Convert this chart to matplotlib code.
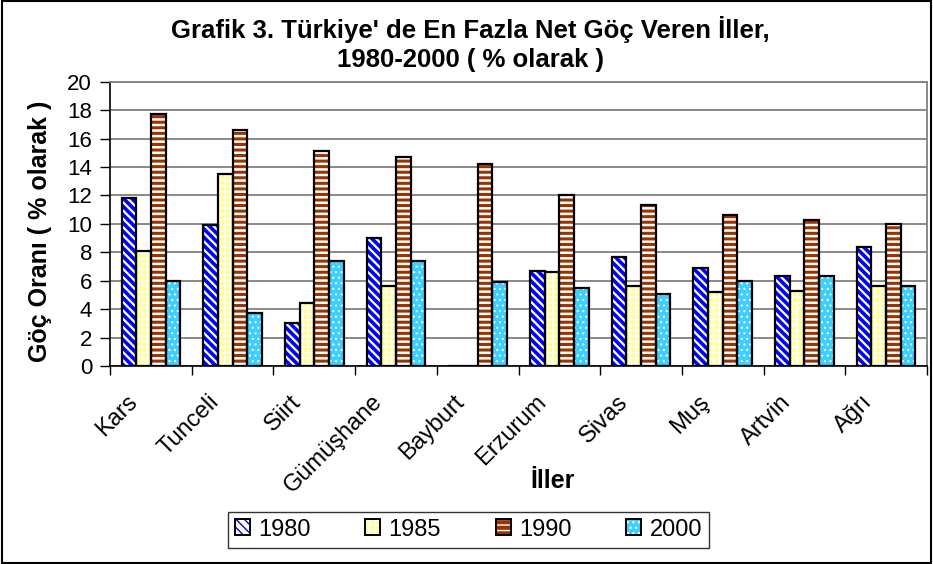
import numpy as np
import matplotlib
matplotlib.use("Agg")
import matplotlib.pyplot as plt
from matplotlib.patches import Patch, Rectangle

# data
cities = ["Kars", "Tunceli", "Siirt", "Gümüşhane", "Bayburt",
          "Erzurum", "Sivas", "Muş", "Artvin", "Ağrı"]
years = ["1980", "1985", "1990", "2000"]
v1980 = [11.8, 9.9, 3.0, 9.0, 0, 6.7, 7.7, 6.9, 6.3, 8.4]
v1985 = [8.1, 13.5, 4.4, 5.6, 0, 6.6, 5.6, 5.2, 5.3, 5.6]
v1990 = [17.7, 16.6, 15.1, 14.7, 14.2, 12.0, 11.3, 10.6, 10.3, 10.0]
v2000 = [6.0, 3.7, 7.4, 7.4, 5.9, 5.5, 5.1, 6.0, 6.3, 5.6]
yticks = list(range(0, 21, 2))

plt.rcParams['font.family'] = ['Liberation Sans', 'DejaVu Sans']

# fill colour, hatch colour, hatch pattern, hatch width per series
styles = [
    ("white", "#0000FF", "\\\\\\\\", 2.6),
    ("#FFFF99", "white", "+++", 1.0),
    ("#993300", "white", "---", 1.8),
    ("#3CCFFF", "white", "...", 0.8),
]

fig = plt.figure(figsize=(9.33, 5.64), dpi=100)
ax = fig.add_axes([0.118, 0.351, 0.8755, 0.504])

x = np.arange(len(cities))
w = 0.18
series = [v1980, v1985, v1990, v2000]
handles = []
for i, (vals, (fc, hc, hatch, hlw)) in enumerate(zip(series, styles)):
    pos = x + (i - 1.5) * w
    with plt.rc_context({'hatch.linewidth': hlw}):
        ax.bar(pos, vals, w, color=fc, edgecolor="none", zorder=2)
        ax.bar(pos, vals, w, color="none", edgecolor=hc, hatch=hatch, linewidth=0, zorder=3)
        ax.bar(pos, vals, w, color="none", edgecolor="black", linewidth=1.6, zorder=4)
        handles.append((Patch(facecolor=fc, edgecolor="none"),
                        Patch(facecolor="none", edgecolor=hc, hatch=hatch, linewidth=0),
                        Patch(facecolor="none", edgecolor="black", linewidth=1.4)))

ax.set_xlim(-0.5, len(cities) - 0.5)
ax.set_ylim(0, 20)
ax.set_yticks(yticks)
ax.set_yticklabels([str(t) for t in yticks], fontsize=16)
ax.yaxis.grid(True, color="#808080", linewidth=1.3, zorder=0)
ax.set_axisbelow(True)

ax.set_xticks(np.arange(len(cities) + 1) - 0.5)
ax.set_xticklabels([])
ax.tick_params(axis="x", length=6.5, width=1, direction="out")
ax.tick_params(axis="y", length=7, width=1, direction="out", pad=6)
for xi, name in zip(x, cities):
    ax.text(xi - 0.30, -1.75, name, rotation=45, ha="right", va="top",
            rotation_mode="anchor", fontsize=17, transform=ax.transData)

for side in ["top", "right"]:
    ax.spines[side].set_color("#808080")
    ax.spines[side].set_linewidth(1.3)
for side in ["left", "bottom"]:
    ax.spines[side].set_color("black")
    ax.spines[side].set_linewidth(1.2)

fig.text(0.504, 0.948, "Grafik 3. Türkiye' de En Fazla Net Göç Veren İller,",
         ha="center", va="center", fontsize=18.5, fontweight="bold")
fig.text(0.504, 0.893, "1980-2000 ( % olarak )",
         ha="center", va="center", fontsize=18.5, fontweight="bold")
fig.text(0.043, 0.589, "Göç Oranı ( % olarak )", rotation=90,
         ha="center", va="center", fontsize=18, fontweight="bold")
fig.text(0.592, 0.147, "İller", ha="center", va="center",
         fontsize=18, fontweight="bold")

leg = fig.legend(handles, years, loc="center", bbox_to_anchor=(0.502, 0.061),
                 ncol=4, fontsize=17, frameon=True, fancybox=False,
                 edgecolor="black", handlelength=0.65, handleheight=0.65,
                 columnspacing=2.3, handletextpad=0.35, borderpad=0.3,
                 borderaxespad=0)
leg.get_frame().set_linewidth(1.0)

fig.patches.append(Rectangle((0.002, 0.002), 0.996, 0.996, transform=fig.transFigure,
                             fill=False, edgecolor="black", linewidth=1.5))

fig.savefig("out.png", dpi=100)
